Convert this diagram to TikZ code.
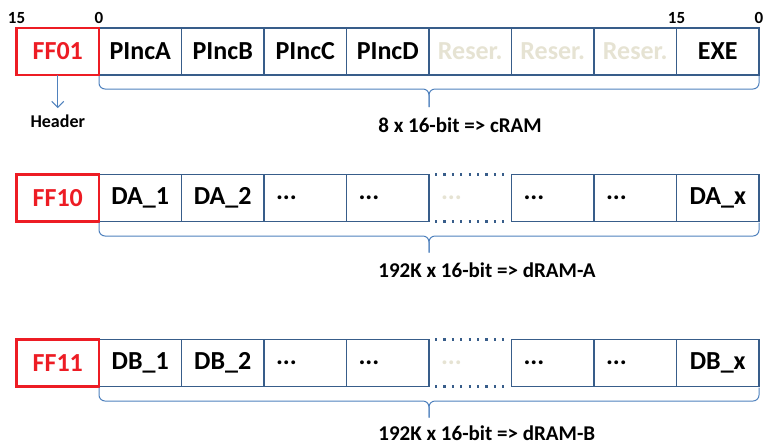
\documentclass[tikz,border=0pt]{standalone}
\usepackage{fontspec}
\setmainfont{Carlito}
\usetikzlibrary{positioning,calc,arrows.meta}
\definecolor{cellblue}{HTML}{385D8A}
\definecolor{braceblue}{HTML}{4F81BD}
\definecolor{hdrred}{HTML}{ED1C24}
\definecolor{fadetan}{HTML}{E6E3D3}

\begin{document}
\begin{tikzpicture}[x=0.5pt,y=-0.5pt]
    % Setup the styles for the cells and labels
        \tikzset{cell/.style={draw=cellblue,
                              line width=0.75pt,
                              minimum width=41.25pt,
                              minimum height=23.5pt,
                              inner sep=0pt, outer sep=0pt,
                              font=\bfseries\fontsize{13}{15}\selectfont},
                 dotcell/.style={cell, inner xsep=6pt, text width=29.25pt, align=left},
                 gapcell/.style={dotcell, draw=none, text=fadetan},
                 hdrbox/.style={cell, draw=hdrred, line width=1.1pt, text=hdrred},
                 bitlbl/.style={inner sep=0pt, font=\bfseries\fontsize{8.5}{10}\selectfont},
                 sumlbl/.style={inner sep=0pt, anchor=base west,
                                font=\bfseries\fontsize{10.5}{12}\selectfont},
                 brace line/.style={draw=braceblue, line width=0.5pt, rounded corners=3pt},
                 gap line/.style={draw=cellblue, line width=1.1pt,
                                  dash pattern=on 1.1pt off 3.1pt,
                                  shorten <=3pt, shorten >=2pt}}
        \useasboundingbox (0,0) rectangle (765,446);
        % Row 1: control words
        \node[cell] at (140.25, 51.5) (pa) {PIncA};
        \node[cell, right=0pt of pa]  (pb) {PIncB};
        \node[cell, right=0pt of pb]  (pc) {PIncC};
        \node[cell, right=0pt of pc]  (pd) {PIncD};
        \node[cell, right=0pt of pd, text=fadetan]  (rs1) {Reser.};
        \node[cell, right=0pt of rs1, text=fadetan] (rs2) {Reser.};
        \node[cell, right=0pt of rs2, text=fadetan] (rs3) {Reser.};
        \node[cell, right=0pt of rs3] (exe) {EXE};
        \node[hdrbox, left=0pt of pa] (ff01) {FF01};
        % Bit numbers
        \node[bitlbl, above=1.8pt of ff01.north west] (b15a) {15};
        \node[bitlbl, above=1.8pt of pa.north west]   (b0a)  {0};
        \node[bitlbl, above=1.8pt of exe.north west]  (b15b) {15};
        \node[bitlbl, above=1.8pt of exe.north east]  (b0b)  {0};
        % Header marker
        \node[bitlbl, below=19.5pt of ff01, font=\bfseries\fontsize{9}{11}\selectfont] (hdr) {Header};
        \draw[draw=braceblue, line width=0.5pt, -{Straight Barb[length=3pt,width=6pt]},
              shorten >=3pt] (ff01.south) -- (hdr.north);
        \draw[brace line] ($(pa.south west)+(0,1)$) |- ($(pd.south east)+(0,14)$)
                          -- ($(pd.south east)+(0,32)$);
        \draw[brace line] ($(exe.south east)+(0,1)$) |- ($(pd.south east)+(0,14)$)
                          -- ($(pd.south east)+(0,32)$);
        \node[sumlbl] at ($(pd.south east)+(-51,57)$) (sum1) {8 x 16-bit => cRAM};

        % Row 2: data words A
        \node[cell] at (140.25, 198) (da1) {DA\_1};
        \node[cell, right=0pt of da1]    (da2) {DA\_2};
        \node[dotcell, right=0pt of da2] (da3) {...};
        \node[dotcell, right=0pt of da3] (da4) {...};
        \node[gapcell, right=0pt of da4] (dagap) {...};
        \node[dotcell, right=0pt of dagap] (da5) {...};
        \node[dotcell, right=0pt of da5] (da6) {...};
        \node[cell, right=0pt of da6]    (dax) {DA\_x};
        \node[hdrbox, left=0pt of da1] (ff10) {FF10};
        \draw[gap line] (dagap.north west) -- (dagap.north east);
        \draw[gap line] (dagap.south west) -- (dagap.south east);
        \draw[brace line] ($(da1.south west)+(0,1)$) |- ($(da4.south east)+(0,14.5)$)
                          -- ($(da4.south east)+(0,31)$);
        \draw[brace line] ($(dax.south east)+(0,1)$) |- ($(da4.south east)+(0,14.5)$)
                          -- ($(da4.south east)+(0,31)$);
        \node[sumlbl] at ($(da4.south east)+(-51,56)$) (sum2) {192K x 16-bit => dRAM-A};

        % Row 3: data words B
        \node[cell] at (140.25, 363) (db1) {DB\_1};
        \node[cell, right=0pt of db1]    (db2) {DB\_2};
        \node[dotcell, right=0pt of db2] (db3) {...};
        \node[dotcell, right=0pt of db3] (db4) {...};
        \node[gapcell, right=0pt of db4] (dbgap) {...};
        \node[dotcell, right=0pt of dbgap] (db5) {...};
        \node[dotcell, right=0pt of db5] (db6) {...};
        \node[cell, right=0pt of db6]    (dbx) {DB\_x};
        \node[hdrbox, left=0pt of db1] (ff11) {FF11};
        \draw[gap line] (dbgap.north west) -- (dbgap.north east);
        \draw[gap line] (dbgap.south west) -- (dbgap.south east);
        \draw[brace line] ($(db1.south west)+(0,1)$) |- ($(db4.south east)+(0,14.5)$)
                          -- ($(db4.south east)+(0,31)$);
        \draw[brace line] ($(dbx.south east)+(0,1)$) |- ($(db4.south east)+(0,14.5)$)
                          -- ($(db4.south east)+(0,31)$);
        \node[sumlbl] at ($(db4.south east)+(-51,54)$) (sum3) {192K x 16-bit => dRAM-B};
\end{tikzpicture}
\end{document}
